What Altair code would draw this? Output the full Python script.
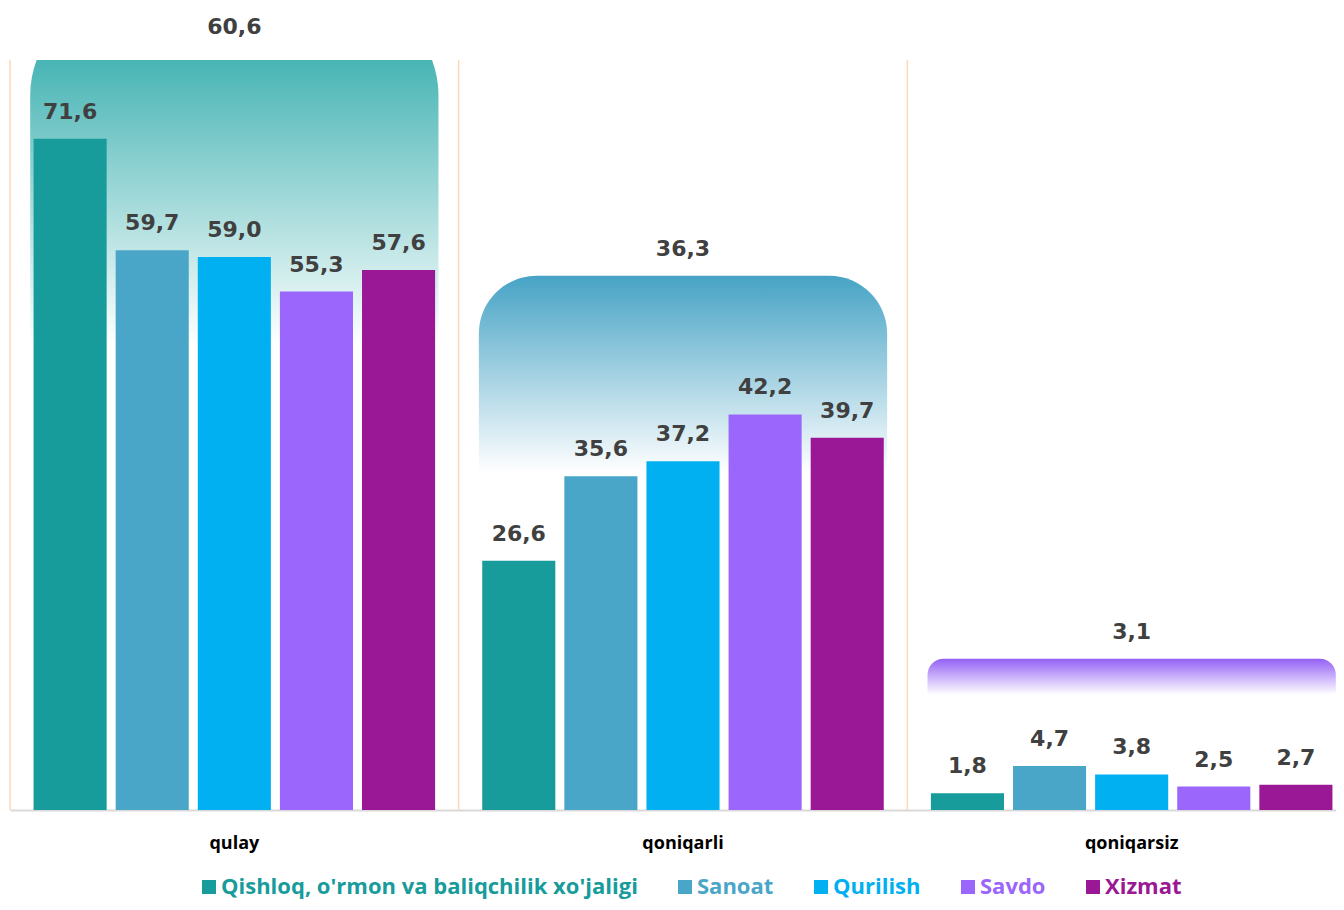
import altair as alt
import pandas as pd

categories = ["qulay", "qoniqarli", "qoniqarsiz"]
series = ["Qishloq, o'rmon va baliqchilik xo'jaligi", "Sanoat", "Qurilish", "Savdo", "Xizmat"]
qishloq = [71.6, 26.6, 1.8]
sanoat = [59.7, 35.6, 4.7]
qurilish = [59.0, 37.2, 3.8]
savdo = [55.3, 42.2, 2.5]
xizmat = [57.6, 39.7, 2.7]
totals = [60.6, 36.3, 3.1]

colors = ["#179b9b", "#4aa6c8", "#00b0f0", "#9b66fc", "#9a1896"]
shape_colors = ["#1fa4a4", "#46a3c5", "#9461f5"]
shape_fade = [0.5, 0.47, 1.0]
shape_radius = [100, 58, 16]

rows = []
for s, vals in zip(series, [qishloq, sanoat, qurilish, savdo, xizmat]):
    for c, v in zip(categories, vals):
        rows.append({"category": c, "series": s, "value": v})
bars_df = pd.DataFrame(rows)
tot_df = pd.DataFrame({"category": categories, "total": totals})

x_scale = alt.Scale(range=[0, 1346], paddingInner=0, paddingOuter=0)
x_axis = alt.Axis(title=None, ticks=False, labelAngle=0, labelFont="Open Sans",
                  labelFontWeight="bold", labelFontSize=18, labelColor="#000000",
                  labelPadding=24, domainColor="#d9d9d9", domainWidth=2, grid=False)


def X(**kw):
    return alt.X("category:N", sort=categories, scale=x_scale, axis=x_axis, **kw)


y2_scale = alt.Scale(domain=[-10, 55])

rules = alt.Chart(tot_df).mark_rule(color="#fcd9b6", strokeWidth=1.5).encode(
    x=X(bandPosition=0), y=alt.value(0), y2=alt.value(750)
)

shape_layers = []
for c, col, fade, r in zip(categories, shape_colors, shape_fade, shape_radius):
    grad = alt.Gradient(
        gradient="linear",
        stops=[alt.GradientStop(color=col, offset=0),
               alt.GradientStop(color="#ffffff", offset=fade),
               alt.GradientStop(color="#ffffff", offset=1)],
        x1=0, x2=0, y1=0, y2=1,
    )
    layer = alt.Chart(tot_df).transform_filter(
        alt.datum.category == c
    ).mark_bar(
        clip=True, width=alt.RelativeBandSize(0.91), color=grad,
        cornerRadiusTopLeft=r, cornerRadiusTopRight=r,
    ).encode(
        x=X(),
        y=alt.Y("total:Q", scale=y2_scale, axis=None),
        y2=alt.datum(0),
    )
    shape_layers.append(layer)

tot_text = alt.Chart(tot_df).transform_calculate(
    ty="min(datum.total, 55.5)",
    label="replace(format(datum.total, '.1f'), '.', ',')",
).mark_text(
    baseline="alphabetic", dy=-20, font="DejaVu Sans", fontWeight="bold",
    fontSize=22, color="#404040",
).encode(
    x=X(),
    y=alt.Y("ty:Q", scale=y2_scale, axis=None),
    text="label:N",
)

shapes = alt.layer(rules, *shape_layers, tot_text)

y_scale = alt.Scale(domain=[0, 80])
xoff = alt.XOffset("series:N", sort=series,
                   scale=alt.Scale(paddingInner=0.11, paddingOuter=0.287))

bars = alt.Chart(bars_df).mark_bar().encode(
    x=X(),
    xOffset=xoff,
    y=alt.Y("value:Q", scale=y_scale, axis=None),
    color=alt.Color(
        "series:N", sort=series,
        scale=alt.Scale(domain=series, range=colors),
        legend=alt.Legend(
            orient="none", legendX=188, legendY=816, direction="horizontal",
            title=None, symbolType="square", symbolSize=196, symbolStrokeWidth=0,
            labelFont="Open Sans", labelFontWeight="bold", labelFontSize=22,
            labelColor=alt.ExprRef("scale('color', datum.value)"),
            labelLimit=0, columnPadding=36, labelOffset=1, padding=0,
        ),
    ),
)

bar_text = alt.Chart(bars_df).transform_calculate(
    label="replace(format(datum.value, '.1f'), '.', ',')"
).mark_text(
    baseline="alphabetic", dy=-20, font="DejaVu Sans", fontWeight="bold",
    fontSize=22, color="#404040",
).encode(
    x=X(),
    xOffset=xoff,
    y=alt.Y("value:Q", scale=y_scale, axis=None),
    text="label:N",
)

chart = alt.layer(shapes, bars + bar_text).resolve_scale(y="independent").properties(
    width=1326, height=750,
    autosize=alt.AutoSizeParams(type="none"),
    padding={"left": 2, "top": 52, "right": 0, "bottom": 92},
    background="#ffffff",
).configure_view(stroke=None)

chart.save("out.html", embed_options={"renderer": "svg", "actions": False})
